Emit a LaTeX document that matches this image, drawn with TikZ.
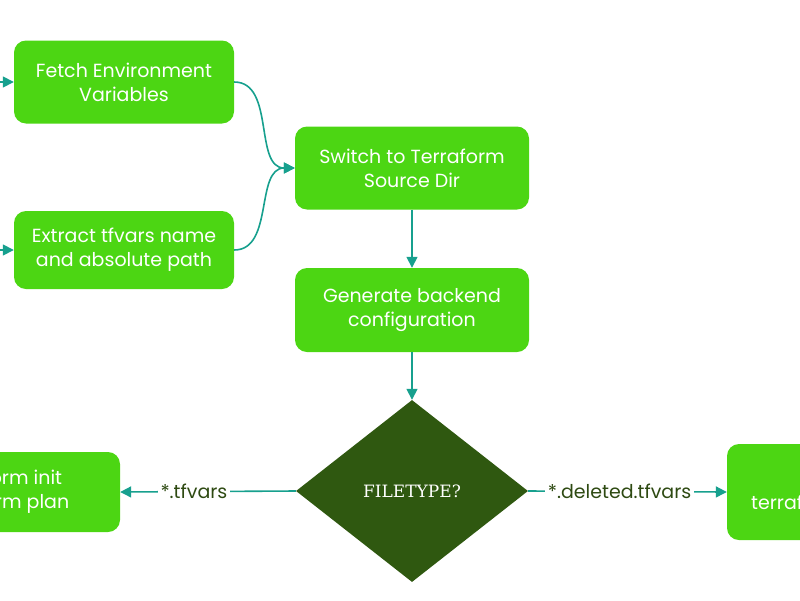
\documentclass[tikz,border=0pt]{standalone}
\usepackage{fontspec}
\setmainfont{Poppins}
\newfontfamily\serifdia{DejaVu Serif}
\usetikzlibrary{shapes.geometric,arrows.meta}
\definecolor{boxg}{HTML}{4CD613}
\definecolor{teal}{HTML}{17A08E}
\definecolor{diag}{HTML}{2F5810}
\definecolor{lab}{HTML}{2E4A12}
\begin{document}
\begin{tikzpicture}[x=1pt,y=-1pt,
  box/.style={draw=none,fill=boxg,rounded corners=12pt,text=white,align=center,font=\fontsize{19}{24}\selectfont,inner sep=0pt},
  conn/.style={draw=teal,line width=1.6pt,-{Triangle[length=11pt,width=11pt]}},
  lbl/.style={fill=white,text=lab,font=\fontsize{19}{22}\selectfont,inner sep=3pt}]
\useasboundingbox (0,0) rectangle (800,600);
\clip (0,0) rectangle (800,600);
\node[box,minimum width=220pt,minimum height=83pt] (fetch) at (124,82) {Fetch Environment\\Variables};
\node[box,minimum width=220pt,minimum height=78pt] (extract) at (124,250) {Extract tfvars name\\and absolute path};
\node[box,minimum width=234pt,minimum height=83pt] (switch) at (412,168) {Switch to Terraform\\Source Dir};
\node[box,minimum width=234pt,minimum height=84pt] (gen) at (412,310) {Generate backend\\configuration};
\node[diamond,fill=diag,minimum width=232pt,minimum height=182pt,inner sep=0pt,text=white,font=\serifdia\fontsize{17}{20}\selectfont] (ft) at (412,491) {FILETYPE?};
\node[box,minimum width=240pt,minimum height=80pt] (plan) at (0,492) {terraform init\\terraform plan};
\node[box,minimum width=200pt,minimum height=96pt] (del) at (827,492) {};
\node[anchor=west,text=white,font=\fontsize{19}{22}\selectfont,inner sep=0pt] (deltxt) at (751,502) {terraform};
\coordinate (in1) at (-20,82);
\coordinate (in2) at (-20,250);
\draw[conn] (in1) -- (fetch.west);
\draw[conn] (in2) -- (extract.west);
\draw[conn] (fetch.east) to[out=0,in=180] (switch.west);
\draw[conn] (extract.east) to[out=0,in=180] (switch.west);
\draw[conn] (switch.south) -- (gen.north);
\draw[conn] (gen.south) -- (ft.north);
\draw[conn] (ft.west) -- node[lbl,pos=0.58]{*.tfvars} (plan.east);
\draw[conn] (ft.east) -- node[lbl,pos=0.46]{*.deleted.tfvars} (del.west);
\end{tikzpicture}
\end{document}
